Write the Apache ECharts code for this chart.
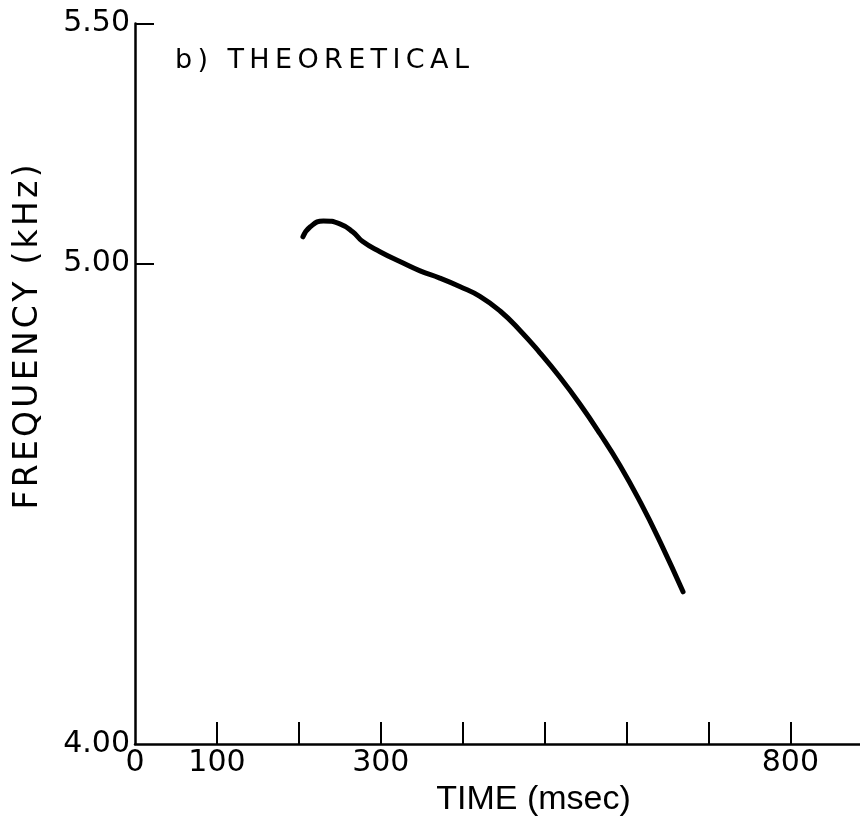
<!DOCTYPE html>
<html>
<head>
<meta charset="utf-8">
<script src="https://cdn.jsdelivr.net/npm/echarts@6/dist/echarts.min.js"></script>
<style>
  html, body { margin: 0; padding: 0; background: #fff; }
  #chart { width: 860px; height: 822px; }
</style>
</head>
<body>
<div id="chart"></div>
<script>
// time (msec) and frequency (kHz)
const timeMs = [205, 214, 230, 250, 266, 278, 299, 324, 348, 372, 397, 421, 446, 470, 494, 519, 543, 568, 592, 617, 641, 669];
const freqKHz = [5.056, 5.077, 5.089, 5.083, 5.066, 5.046, 5.025, 5.004, 4.985, 4.970, 4.952, 4.932, 4.901, 4.861, 4.815, 4.763, 4.708, 4.645, 4.580, 4.503, 4.421, 4.317];

const xTicks = [100, 200, 300, 400, 500, 600, 700, 800];
const xLabels = [0, 100, 300, 800];
const yTicks = [5.0, 5.5];
const yLabels = [4.0, 5.0, 5.5];

// letter spacing by hair spaces
const spaced = (s, n) => s.split('').join('\u200A'.repeat(n));

const chart = echarts.init(document.getElementById('chart'));

chart.setOption({
    backgroundColor: '#fff',
    animation: false,
    title: {
        text: spaced('b) THEORETICAL', 2),
        left: 170,
        top: 42,
        textStyle: { fontFamily: 'DejaVu Sans', fontSize: 27, fontWeight: 'normal', color: '#000' }
    },
    grid: { left: 135, right: 0, top: 23.5, bottom: 74 },
    xAxis: {
        type: 'value',
        min: 0,
        max: 885,
        name: 'TIME (msec)',
        nameLocation: 'middle',
        nameGap: 32,
        nameTextStyle: { fontFamily: 'Liberation Sans', fontSize: 34, color: '#000', padding: [0, 0, 0, 72] },
        axisLine: { onZero: false, lineStyle: { color: '#000', width: 2.5 } },
        axisTick: { inside: true, length: 22, customValues: xTicks, lineStyle: { color: '#000', width: 2 } },
        axisLabel: {
            customValues: xLabels,
            margin: 4,
            fontFamily: 'DejaVu Sans',
            fontSize: 30,
            color: '#000'
        },
        splitLine: { show: false }
    },
    yAxis: {
        type: 'value',
        min: 4,
        max: 5.5,
        axisLine: { onZero: false, lineStyle: { color: '#000', width: 2.5 } },
        axisTick: { inside: true, length: 19, customValues: yTicks, lineStyle: { color: '#000', width: 2 } },
        axisLabel: {
            customValues: yLabels,
            margin: 5,
            fontFamily: 'DejaVu Sans',
            fontSize: 30,
            color: '#000',
            formatter: v => v.toFixed(2)
        },
        splitLine: { show: false }
    },
    graphic: [{
        type: 'text',
        x: 28,
        y: 337,
        rotation: Math.PI / 2,
        style: {
            text: spaced('FREQUENCY (kHz)', 1),
            fontFamily: 'DejaVu Sans',
            fontSize: 33,
            fill: '#000',
            textAlign: 'center',
            textVerticalAlign: 'middle'
        }
    }],
    series: [{
        type: 'line',
        data: timeMs.map((t, i) => [t, freqKHz[i]]),
        smooth: 0.5,
        symbol: 'none',
        lineStyle: { color: '#000', width: 5, cap: 'round' }
    }]
});
</script>
</body>
</html>
